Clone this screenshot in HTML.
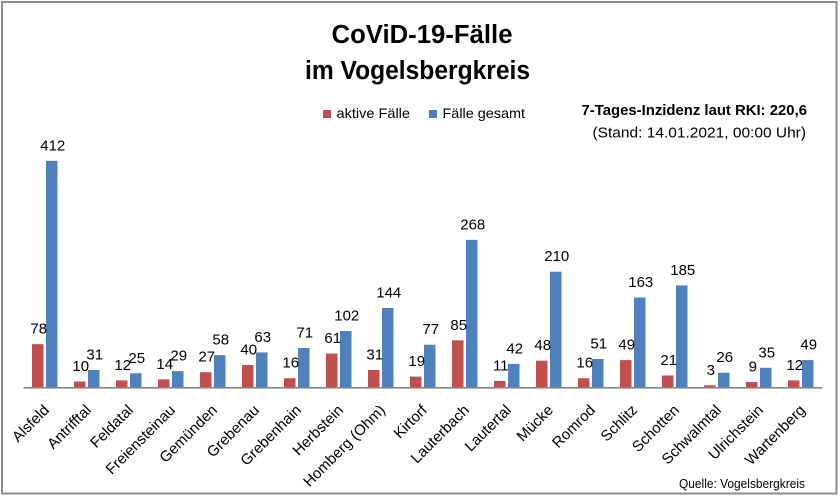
<!DOCTYPE html>
<html>
<head>
<meta charset="utf-8">
<style>
  html, body { margin: 0; padding: 0; background: #fff; }
  svg { display: block; }
  text { font-family: "Liberation Sans", Arial, sans-serif; fill: #000; }
  .dl { font-size: 15px; text-anchor: middle; }
  .cat { font-size: 15px; text-anchor: end; }
</style>
</head>
<body>
<svg width="840" height="496" viewBox="0 0 840 496" xmlns="http://www.w3.org/2000/svg">
  <rect x="0" y="0" width="840" height="496" fill="#fff"/>
  <rect x="2" y="2" width="834.5" height="491.5" fill="none" stroke="#8c8c8c" stroke-width="2"/>

  <!-- Title -->
  <text x="331.5" y="43" font-size="25.5" font-weight="bold" textLength="181" lengthAdjust="spacingAndGlyphs">CoViD-19-Fälle</text>
  <text x="305" y="79" font-size="25.5" font-weight="bold" textLength="225" lengthAdjust="spacingAndGlyphs">im Vogelsbergkreis</text>

  <!-- Legend -->
  <rect x="323" y="110" width="8" height="8" fill="#C0504D"/>
  <text x="336.5" y="118" font-size="14" textLength="73.5" lengthAdjust="spacingAndGlyphs">aktive Fälle</text>
  <rect x="429" y="110" width="8" height="8" fill="#4F81BD"/>
  <text x="442.5" y="118" font-size="14" textLength="82.5" lengthAdjust="spacingAndGlyphs">Fälle gesamt</text>

  <!-- Note -->
  <text x="581.5" y="115" font-size="15" font-weight="bold" textLength="225.5" lengthAdjust="spacingAndGlyphs">7-Tages-Inzidenz laut RKI: 220,6</text>
  <text x="592.5" y="137.5" font-size="15" textLength="213.5" lengthAdjust="spacingAndGlyphs">(Stand: 14.01.2021, 00:00 Uhr)</text>

  <!-- Source -->
  <text x="679" y="488" font-size="12.5" textLength="126" lengthAdjust="spacingAndGlyphs">Quelle: Vogelsbergkreis</text>

  <!-- Bars -->
  <g transform="translate(24,0)">
    <rect x="8" y="344.18" width="11.5" height="42.82" fill="#C0504D"/>
    <rect x="22" y="160.81" width="11.5" height="226.19" fill="#4F81BD"/>
    <text class="dl" x="14.75" y="333.7">78</text>
    <text class="dl" x="28.75" y="150.3">412</text>
    <text class="cat" transform="translate(26,411) rotate(-45)">Alsfeld</text>
  </g>
  <g transform="translate(66,0)">
    <rect x="8" y="381.51" width="11.5" height="5.49" fill="#C0504D"/>
    <rect x="22" y="369.98" width="11.5" height="17.02" fill="#4F81BD"/>
    <text class="dl" x="14.75" y="371">10</text>
    <text class="dl" x="28.75" y="359.5">31</text>
    <text class="cat" transform="translate(26,411) rotate(-45)">Antrifftal</text>
  </g>
  <g transform="translate(108,0)">
    <rect x="8" y="380.41" width="11.5" height="6.59" fill="#C0504D"/>
    <rect x="22" y="373.27" width="11.5" height="13.73" fill="#4F81BD"/>
    <text class="dl" x="14.75" y="369.9">12</text>
    <text class="dl" x="28.75" y="362.8">25</text>
    <text class="cat" transform="translate(26,411) rotate(-45)">Feldatal</text>
  </g>
  <g transform="translate(150,0)">
    <rect x="8" y="379.31" width="11.5" height="7.69" fill="#C0504D"/>
    <rect x="22" y="371.08" width="11.5" height="15.92" fill="#4F81BD"/>
    <text class="dl" x="14.75" y="368.8">14</text>
    <text class="dl" x="28.75" y="360.6">29</text>
    <text class="cat" transform="translate(26,411) rotate(-45)">Freiensteinau</text>
  </g>
  <g transform="translate(192,0)">
    <rect x="8" y="372.18" width="11.5" height="14.82" fill="#C0504D"/>
    <rect x="22" y="355.16" width="11.5" height="31.84" fill="#4F81BD"/>
    <text class="dl" x="14.75" y="361.7">27</text>
    <text class="dl" x="28.75" y="344.7">58</text>
    <text class="cat" transform="translate(26,411) rotate(-45)">Gemünden</text>
  </g>
  <g transform="translate(234,0)">
    <rect x="8" y="365.04" width="11.5" height="21.96" fill="#C0504D"/>
    <rect x="22" y="352.41" width="11.5" height="34.59" fill="#4F81BD"/>
    <text class="dl" x="14.75" y="354.5">40</text>
    <text class="dl" x="28.75" y="341.9">63</text>
    <text class="cat" transform="translate(26,411) rotate(-45)">Grebenau</text>
  </g>
  <g transform="translate(276,0)">
    <rect x="8" y="378.22" width="11.5" height="8.78" fill="#C0504D"/>
    <rect x="22" y="348.02" width="11.5" height="38.98" fill="#4F81BD"/>
    <text class="dl" x="14.75" y="367.7">16</text>
    <text class="dl" x="28.75" y="337.5">71</text>
    <text class="cat" transform="translate(26,411) rotate(-45)">Grebenhain</text>
  </g>
  <g transform="translate(318,0)">
    <rect x="8" y="353.51" width="11.5" height="33.49" fill="#C0504D"/>
    <rect x="22" y="331.00" width="11.5" height="56.00" fill="#4F81BD"/>
    <text class="dl" x="14.75" y="343">61</text>
    <text class="dl" x="28.75" y="320.5">102</text>
    <text class="cat" transform="translate(26,411) rotate(-45)">Herbstein</text>
  </g>
  <g transform="translate(360,0)">
    <rect x="8" y="369.98" width="11.5" height="17.02" fill="#C0504D"/>
    <rect x="22" y="307.94" width="11.5" height="79.06" fill="#4F81BD"/>
    <text class="dl" x="14.75" y="359.5">31</text>
    <text class="dl" x="28.75" y="297.4">144</text>
    <text class="cat" transform="translate(26,411) rotate(-45)">Homberg (Ohm)</text>
  </g>
  <g transform="translate(402,0)">
    <rect x="8" y="376.57" width="11.5" height="10.43" fill="#C0504D"/>
    <rect x="22" y="344.73" width="11.5" height="42.27" fill="#4F81BD"/>
    <text class="dl" x="14.75" y="366.1">19</text>
    <text class="dl" x="28.75" y="334.2">77</text>
    <text class="cat" transform="translate(26,411) rotate(-45)">Kirtorf</text>
  </g>
  <g transform="translate(444,0)">
    <rect x="8" y="340.33" width="11.5" height="46.67" fill="#C0504D"/>
    <rect x="22" y="239.87" width="11.5" height="147.13" fill="#4F81BD"/>
    <text class="dl" x="14.75" y="329.8">85</text>
    <text class="dl" x="28.75" y="229.4">268</text>
    <text class="cat" transform="translate(26,411) rotate(-45)">Lauterbach</text>
  </g>
  <g transform="translate(486,0)">
    <rect x="8" y="380.96" width="11.5" height="6.04" fill="#C0504D"/>
    <rect x="22" y="363.94" width="11.5" height="23.06" fill="#4F81BD"/>
    <text class="dl" x="14.75" y="370.5">11</text>
    <text class="dl" x="28.75" y="353.4">42</text>
    <text class="cat" transform="translate(26,411) rotate(-45)">Lautertal</text>
  </g>
  <g transform="translate(528,0)">
    <rect x="8" y="360.65" width="11.5" height="26.35" fill="#C0504D"/>
    <rect x="22" y="271.71" width="11.5" height="115.29" fill="#4F81BD"/>
    <text class="dl" x="14.75" y="350.1">48</text>
    <text class="dl" x="28.75" y="261.2">210</text>
    <text class="cat" transform="translate(26,411) rotate(-45)">Mücke</text>
  </g>
  <g transform="translate(570,0)">
    <rect x="8" y="378.22" width="11.5" height="8.78" fill="#C0504D"/>
    <rect x="22" y="359.00" width="11.5" height="28.00" fill="#4F81BD"/>
    <text class="dl" x="14.75" y="367.7">16</text>
    <text class="dl" x="28.75" y="348.5">51</text>
    <text class="cat" transform="translate(26,411) rotate(-45)">Romrod</text>
  </g>
  <g transform="translate(612,0)">
    <rect x="8" y="360.10" width="11.5" height="26.90" fill="#C0504D"/>
    <rect x="22" y="297.51" width="11.5" height="89.49" fill="#4F81BD"/>
    <text class="dl" x="14.75" y="349.6">49</text>
    <text class="dl" x="28.75" y="287">163</text>
    <text class="cat" transform="translate(26,411) rotate(-45)">Schlitz</text>
  </g>
  <g transform="translate(654,0)">
    <rect x="8" y="375.47" width="11.5" height="11.53" fill="#C0504D"/>
    <rect x="22" y="285.43" width="11.5" height="101.57" fill="#4F81BD"/>
    <text class="dl" x="14.75" y="365">21</text>
    <text class="dl" x="28.75" y="274.9">185</text>
    <text class="cat" transform="translate(26,411) rotate(-45)">Schotten</text>
  </g>
  <g transform="translate(696,0)">
    <rect x="8" y="385.35" width="11.5" height="1.65" fill="#C0504D"/>
    <rect x="22" y="372.73" width="11.5" height="14.27" fill="#4F81BD"/>
    <text class="dl" x="14.75" y="374.8">3</text>
    <text class="dl" x="28.75" y="362.2">26</text>
    <text class="cat" transform="translate(26,411) rotate(-45)">Schwalmtal</text>
  </g>
  <g transform="translate(738,0)">
    <rect x="8" y="382.06" width="11.5" height="4.94" fill="#C0504D"/>
    <rect x="22" y="367.78" width="11.5" height="19.22" fill="#4F81BD"/>
    <text class="dl" x="14.75" y="371.6">9</text>
    <text class="dl" x="28.75" y="357.3">35</text>
    <text class="cat" transform="translate(26,411) rotate(-45)">Ulrichstein</text>
  </g>
  <g transform="translate(780,0)">
    <rect x="8" y="380.41" width="11.5" height="6.59" fill="#C0504D"/>
    <rect x="22" y="360.10" width="11.5" height="26.90" fill="#4F81BD"/>
    <text class="dl" x="14.75" y="369.9">12</text>
    <text class="dl" x="28.75" y="349.6">49</text>
    <text class="cat" transform="translate(26,411) rotate(-45)">Wartenberg</text>
  </g>

  <!-- Axis -->
  <line x1="23.5" y1="387.8" x2="822" y2="387.8" stroke="#868686" stroke-width="1.6"/>
</svg>
</body>
</html>
